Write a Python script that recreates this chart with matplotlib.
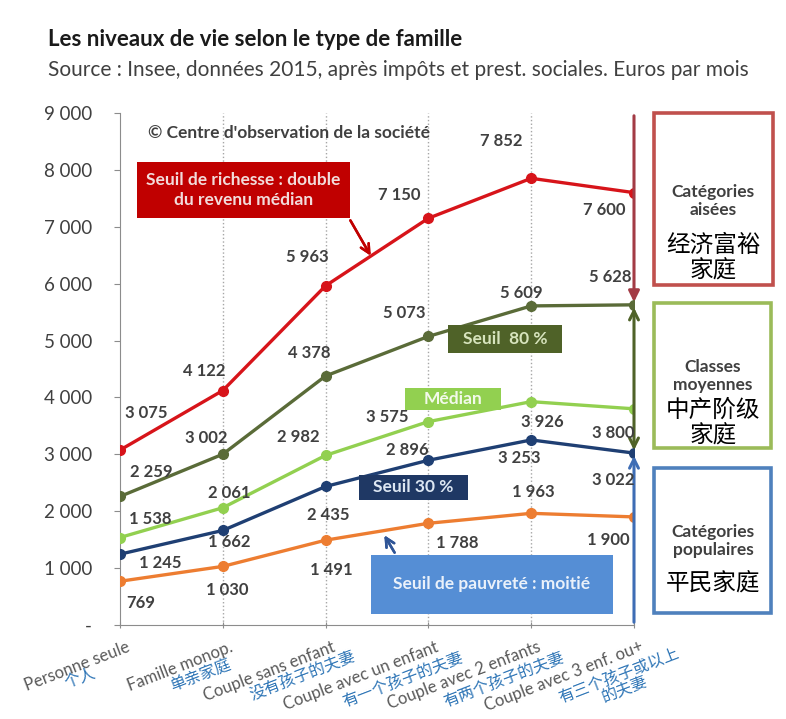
import matplotlib
matplotlib.use("Agg")
import matplotlib.pyplot as plt
from matplotlib.patches import Rectangle
from matplotlib.ticker import FuncFormatter

plt.rcParams['font.family'] = ['Lato', 'Noto Sans CJK SC', 'DejaVu Sans']

# data
categories_fr = ["Personne seule", "Famille monop.", "Couple sans enfant",
                 "Couple avec un enfant", "Couple avec 2 enfants", "Couple avec 3 enf. ou+"]
categories_zh = ["个人", "单亲家庭", "没有孩子的夫妻", "有一个孩子的夫妻",
                 "有两个孩子的夫妻", "有三个孩子或以上\n的夫妻"]
richesse = [3075, 4122, 5963, 7150, 7852, 7600]
seuil_80 = [2259, 3002, 4378, 5073, 5609, 5628]
median = [1538, 2061, 2982, 3575, 3926, 3800]
seuil_30 = [1245, 1662, 2435, 2896, 3253, 3022]
pauvrete = [769, 1030, 1491, 1788, 1963, 1900]
y_ticks = [0, 1000, 2000, 3000, 4000, 5000, 6000, 7000, 8000, 9000]

W, H = 786, 719
fig = plt.figure(figsize=(W / 100, H / 100), dpi=100)
fig.patch.set_facecolor("white")

def fx(px):
    return px / W

def fy(py):
    return 1 - py / H

ax = fig.add_axes([fx(120), fy(625), fx(634) - fx(120), fy(113) - fy(625)])
ax.set_xlim(0, 5)
ax.set_ylim(0, 9000)
ax.set_facecolor("none")

PX = 0.72  # pixels -> points

series = [
    (richesse, "#D7141A", [(26, 37), (-19, 20), (-18, 29), (-29, 23), (-30, 37), (-30, -17)]),
    (seuil_80, "#5A6B38", [(31, 24), (-17, 16), (-16, 23), (-24, 23), (-10, 13), (-24, 28)]),
    (median, "#92D050", [(30, 19), (6, 15), (-27, 18), (-41, 5), (11, -20), (-21, -24)]),
    (seuil_30, "#1F3F73", [(40, -9), (6, -12), (3, -29), (-21, 10), (-12, -18), (-21, -27)]),
    (pauvrete, "#ED7D31", [(21, -22), (4, -24), (6, -30), (29, -20), (2, 21), (-26, -23)]),
]

x = list(range(len(categories_fr)))
for vals, col, offs in series:
    ax.plot(x, vals, color=col, lw=2.4, marker="o", ms=7, zorder=4)
    for xi, v, (dx, dy) in zip(x, vals, offs):
        ax.annotate("{:,}".format(v).replace(",", " "), (xi, v),
                    xytext=(dx * PX, dy * PX), textcoords="offset points",
                    ha="center", va="center", fontsize=12, fontweight="bold",
                    color="#404040", zorder=6)

# axes styling
for s in ["top", "right"]:
    ax.spines[s].set_visible(False)
ax.spines["left"].set_color("#8C8C8C")
ax.spines["bottom"].set_color("#8C8C8C")
ax.set_yticks(y_ticks)
ax.yaxis.set_major_formatter(FuncFormatter(
    lambda v, p: "-" if v == 0 else "{:,}".format(int(v)).replace(",", " ")))
ax.tick_params(axis="y", length=4, color="#8C8C8C", labelsize=13.5, labelcolor="#404040", pad=16)
ax.set_xticks(x)
ax.set_xticklabels([])
ax.tick_params(axis="x", length=5, color="#8C8C8C", direction="inout")
for xi in x[1:]:
    ax.axvline(xi, color="#A6A6A6", ls=":", lw=1, zorder=1)

# category labels
for xi, fr, zh, (dx, dy) in zip(x, categories_fr, categories_zh,
                                [(-40, 53), (-22, 51), (-23, 50), (-26, 54), (-27, 54), (-12, 58)]):
    ax.annotate(fr, (xi, 0), xycoords=("data", "axes fraction"),
                xytext=(6 * PX, -14 * PX), textcoords="offset points",
                ha="right", va="top", rotation=21, rotation_mode="anchor",
                fontsize=12, color="#595959", annotation_clip=False)
    ax.annotate(zh, (xi, 0), xycoords=("data", "axes fraction"),
                xytext=(dx * PX, -dy * PX), textcoords="offset points",
                ha="center", va="center", rotation=21, rotation_mode="anchor",
                fontsize=11.5, color="#2E75B6", linespacing=1.0, annotation_clip=False)

# vertical arrows on the right
ax.annotate("", xy=(5, seuil_80[-1]), xytext=(5, 9000),
            arrowprops=dict(arrowstyle="-|>", color="#A33B45", lw=2.2, mutation_scale=16),
            zorder=5, annotation_clip=False)
ax.annotate("", xy=(5, seuil_30[-1]), xytext=(5, seuil_80[-1]),
            arrowprops=dict(arrowstyle="<->", color="#4F6228", lw=2.2, mutation_scale=16),
            zorder=5)
ax.annotate("", xy=(5, seuil_30[-1]), xytext=(5, 0),
            arrowprops=dict(arrowstyle="->", color="#3E6DB5", lw=2.2, mutation_scale=16),
            zorder=5)

def box(x0, y0, x1, y1, face, text, tcol, size=12.5, edge=None, lw=0):
    r = Rectangle((fx(x0), fy(y1)), fx(x1) - fx(x0), fy(y0) - fy(y1),
                  transform=fig.transFigure, facecolor=face,
                  edgecolor=edge if edge else face, lw=lw, zorder=7)
    fig.add_artist(r)
    if text:
        fig.text(fx((x0 + x1) / 2), fy((y0 + y1) / 2), text, ha="center", va="center",
                 color=tcol, fontsize=size, fontweight="bold", zorder=8, linespacing=1.3)

box(137, 162, 350, 218, "#C00000", "Seuil de richesse : double\ndu revenu médian", "#F2DCDB")
box(448, 325, 562, 353, "#4F6228", "Seuil  80 %", "#D7E4BD")
box(405, 388, 501, 410, "#92D050", "Médian", "#F2F9EA")
box(359, 475, 468, 500, "#1F3864", "Seuil 30 %", "#DCE6F2")
box(371, 555, 613, 614, "#558ED5", "Seuil de pauvreté : moitié", "#EAF1FA")

# small pointer arrows
fig.add_artist(plt.annotate("", xy=(fx(372), fy(258)), xytext=(fx(349), fy(218)),
                            xycoords="figure fraction", textcoords="figure fraction",
                            arrowprops=dict(arrowstyle="->", color="#C00000", lw=1.8,
                                            mutation_scale=16)))
fig.add_artist(plt.annotate("", xy=(fx(383), fy(533)), xytext=(fx(396), fy(555)),
                            xycoords="figure fraction", textcoords="figure fraction",
                            arrowprops=dict(arrowstyle="->", color="#2F5597", lw=1.8,
                                            mutation_scale=16)))

# right category boxes
box(654, 113, 773, 285, "white", None, None, edge="#C0504D", lw=2.6)
box(654, 303, 771, 448, "white", None, None, edge="#9BBB59", lw=2.6)
box(654, 468, 771, 613, "white", None, None, edge="#4F81BD", lw=2.6)
right_texts = [
    (201, "Catégories\naisées", 257, "经济富裕\n家庭"),
    (376, "Classes\nmoyennes", 422, "中产阶级\n家庭"),
    (541, "Catégories\npopulaires", 582, "平民家庭"),
]
for yfr, fr, yzh, zh in right_texts:
    fig.text(fx(713), fy(yfr), fr, ha="center", va="center", fontsize=12.5,
             fontweight="bold", color="#404040", zorder=9, linespacing=1.15)
    fig.text(fx(713), fy(yzh), zh, ha="center", va="center", fontsize=17,
             color="black", zorder=9, linespacing=1.1)

# titles
fig.text(fx(48), fy(40), "Les niveaux de vie selon le type de famille", ha="left",
         va="center", fontsize=16, fontweight="bold", color="#1A1A1A")
fig.text(fx(48), fy(70), "Source : Insee, données 2015, après impôts et prest. sociales. Euros par mois",
         ha="left", va="center", fontsize=15, color="#404040")
fig.text(fx(148), fy(133), "© Centre d'observation de la société", ha="left", va="center",
         fontsize=12.5, fontweight="bold", color="#404040")

fig.savefig("out.png", dpi=100, facecolor="white")
